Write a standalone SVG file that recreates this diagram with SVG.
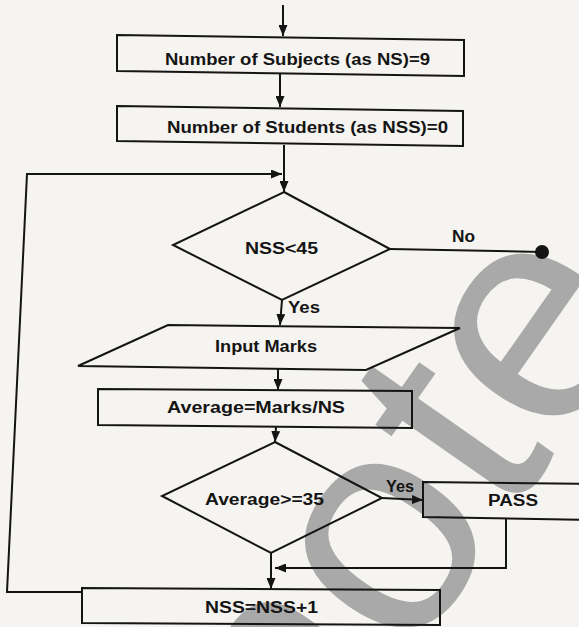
<svg xmlns="http://www.w3.org/2000/svg" width="579" height="627" viewBox="0 0 579 627">
  <style>
    .box { fill: none; stroke: #141414; stroke-width: 2; stroke-linejoin: miter; }
    .ln { fill: none; stroke: #141414; stroke-width: 2; }
    .arr { marker-end: url(#ah); }
    .t { font-family: "Liberation Sans", Arial, Helvetica, sans-serif; font-weight: bold; font-size: 16px; fill: #141414; }
    .wm { font-family: "Liberation Sans", Arial, Helvetica, sans-serif; font-size: 310px; fill: #a9a9a9; }
  </style>
  <defs>
    <marker id="ah" markerWidth="11" markerHeight="9" refX="11" refY="4.5" orient="auto" markerUnits="userSpaceOnUse">
      <path d="M0,0 L11,4.5 L0,9 z" fill="#141414"/>
    </marker>
  </defs>
  <rect x="0" y="0" width="579" height="627" fill="#f6f4f1"/>

  <!-- watermark -->
  <text class="wm" transform="translate(309,805) rotate(-55)">note</text>

  <g id="connectors">
    <path class="ln arr" d="M283,5 L283,36"/>
    <path class="ln arr" d="M280,73 L280,107"/>
    <path class="ln arr" d="M284,145 L284,192"/>
    <path class="ln arr" d="M82,592 L7,592 L27,174 L282,174"/>
    <path class="ln" d="M390,249 L542,252"/>
    <circle cx="542" cy="252" r="7" fill="#141414"/>
    <path class="ln arr" d="M282,300 L280,325"/>
    <path class="ln arr" d="M278,368 L278,390"/>
    <path class="ln arr" d="M276,427 L275,442"/>
    <path class="ln arr" d="M382,498 L423,500"/>
    <path class="ln arr" d="M506,519 L506,568 L275,568"/>
    <path class="ln arr" d="M271,553 L271,589"/>
    <text class="t" x="452" y="242" textLength="23" lengthAdjust="spacingAndGlyphs">No</text>
    <text class="t" x="288" y="313" textLength="32" lengthAdjust="spacingAndGlyphs">Yes</text>
    <text class="t" x="386" y="492" textLength="28" lengthAdjust="spacingAndGlyphs">Yes</text>
  </g>

  <g id="n-subjects">
    <polygon class="box" points="117,35 464,40 464,76 117,71"/>
    <text class="t" x="165" y="65" textLength="265" lengthAdjust="spacingAndGlyphs">Number of Subjects (as NS)=9</text>
  </g>
  <g id="n-students">
    <polygon class="box" points="117,106 463,111 463,146 117,141"/>
    <text class="t" x="167" y="133" textLength="281" lengthAdjust="spacingAndGlyphs">Number of Students (as NSS)=0</text>
  </g>
  <g id="d-nss">
    <polygon class="box" points="284,192 390,249 282,300 173,245"/>
    <text class="t" x="245" y="254" textLength="73" lengthAdjust="spacingAndGlyphs">NSS&lt;45</text>
  </g>
  <g id="n-input">
    <polygon class="box" points="168,325 460,328 366,370 78,366"/>
    <text class="t" x="215" y="352" textLength="102" lengthAdjust="spacingAndGlyphs">Input Marks</text>
  </g>
  <g id="n-average">
    <polygon class="box" points="98,389 412,391 412,428 98,425"/>
    <text class="t" x="167" y="413" textLength="178" lengthAdjust="spacingAndGlyphs">Average=Marks/NS</text>
  </g>
  <g id="d-average">
    <polygon class="box" points="275,442 382,498 271,553 162,496"/>
    <text class="t" x="205" y="505" textLength="119" lengthAdjust="spacingAndGlyphs">Average&gt;=35</text>
  </g>
  <g id="n-pass">
    <polygon class="box" points="423,482 600,484 600,520 423,517"/>
    <text class="t" x="488" y="506" textLength="50" lengthAdjust="spacingAndGlyphs">PASS</text>
  </g>
  <g id="n-increment">
    <polygon class="box" points="82,588 440,590 440,625 82,623"/>
    <text class="t" x="205" y="613" textLength="113" lengthAdjust="spacingAndGlyphs">NSS=NSS+1</text>
  </g>
</svg>
